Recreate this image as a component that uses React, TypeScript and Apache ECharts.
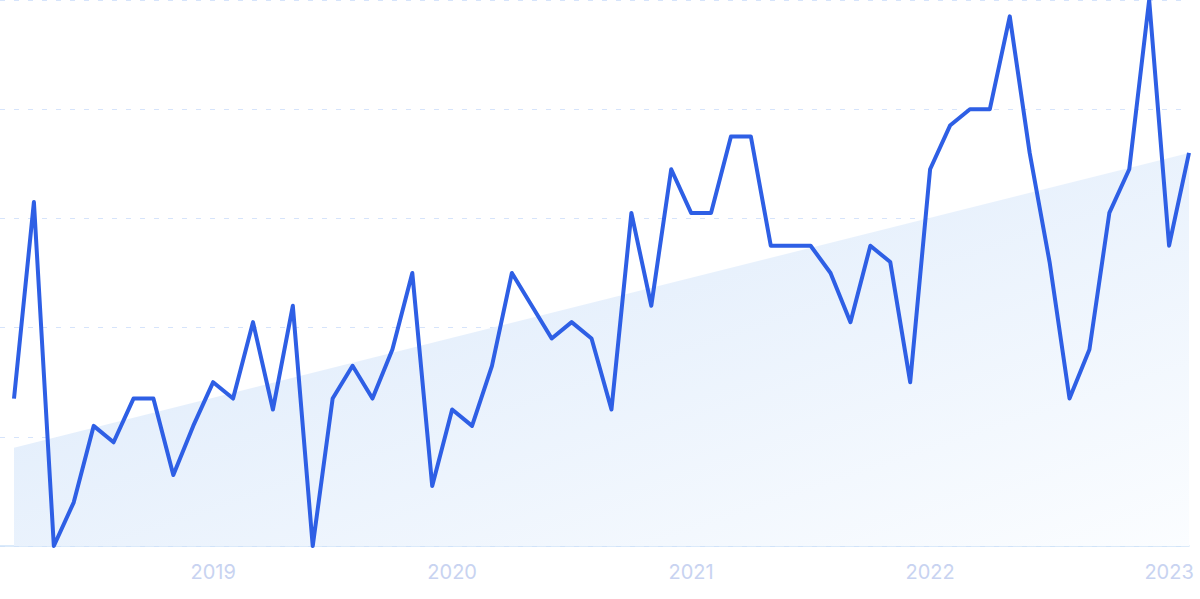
import React, { useEffect, useRef } from "react";
import * as echarts from "echarts";

const startYear = 2018;
const startMonth = 3; // March 2018
const values: number[] = [
  27, 63, 0, 8, 22, 19, 27, 27, 13, 22,
  30, 27, 41, 25, 44, 0, 27, 33, 27, 36,
  50, 11, 25, 22, 33, 50, 44, 38, 41, 38,
  25, 61, 44, 69, 61, 61, 75, 75, 55, 55,
  55, 50, 41, 55, 52, 30, 69, 77, 80, 80,
  97, 72, 52, 27, 36, 61, 69, 100, 55, 72,
];
const trendStart = 18;
const trendEnd = 72;
const yearTicks = [10, 22, 34, 46, 58];
const yearLabels = ["2019", "2020", "2021", "2022", "2023"];

export default function App() {
  const ref = useRef<HTMLDivElement>(null);
  useEffect(() => {
    if (!ref.current) return;
    const chart = echarts.init(ref.current, null, { renderer: "svg" });
    const lineData = values.map((v, i) => [i, v]);
    const last = values.length - 1;
    chart.setOption({
      animation: false,
      grid: { left: 0, right: 11, top: 0, bottom: 53, containLabel: false },
      xAxis: {
        type: "value",
        min: -0.703,
        max: last,
        axisLine: { show: true, lineStyle: { color: "#cfe3f8", width: 1.5 } },
        axisTick: { show: false },
        splitLine: { show: false },
        axisLabel: {
          customValues: yearTicks,
          formatter: (v: number) => {
            const k = yearTicks.indexOf(Math.round(v));
            return k >= 0 ? yearLabels[k] : "";
          },
          color: "#c8d3f1",
          fontSize: 20,
          fontFamily: "Inter",
          margin: 16,
        },
      },
      yAxis: {
        type: "value",
        min: 0,
        max: 100,
        interval: 20,
        axisLine: { show: false },
        axisTick: { show: false },
        axisLabel: { show: false },
        splitLine: { show: true, lineStyle: { color: "#d6e4fb", type: [5, 9], width: 1 } },
      },
      series: [
        {
          type: "line",
          data: [[0, trendStart], [last, trendEnd]],
          symbol: "none",
          silent: true,
          lineStyle: { width: 0 },
          areaStyle: {
            opacity: 1,
            color: new echarts.graphic.LinearGradient(0, 0, 1, 1, [
              { offset: 0, color: "#d8e7fa" },
              { offset: 1, color: "#fbfdff" },
            ]),
          },
          z: 1,
        },
        {
          type: "line",
          data: lineData,
          symbol: "none",
          lineStyle: { color: "#2e5fe5", width: 4, join: "round" },
          z: 3,
        },
      ],
    });
    return () => chart.dispose();
  }, []);
  return (
    <div
      ref={ref}
      style={{ position: "absolute", left: 0, top: 0, width: 1200, height: 599, background: "#fff" }}
    />
  );
}
